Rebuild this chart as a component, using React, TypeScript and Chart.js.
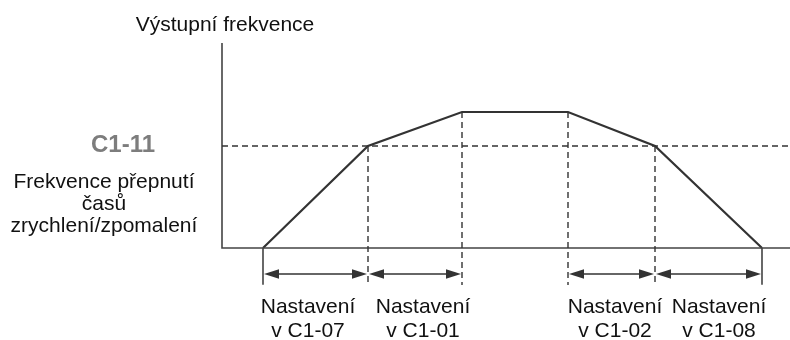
import React, { useEffect, useRef } from "react";
import { Chart, registerables } from "chart.js";

Chart.register(...registerables);

// Time instants (arbitrary units) of the accel/decel profile corners
const timePoints = [0.41, 1.46, 2.4, 3.46, 4.33, 5.4];
// Output frequency (% of max) at those instants
const freqPercent = [0, 75, 100, 100, 75, 0];
// Switching frequency C1-11 (% of max)
const switchFreq = 75;
// Segments measured by the double arrows (indices into timePoints)
const segments = [
  [0, 1],
  [1, 2],
  [3, 4],
  [4, 5],
];
const segmentLabels = [
  ["Nastavení", "v C1-07"],
  ["Nastavení", "v C1-01"],
  ["Nastavení", "v C1-02"],
  ["Nastavení", "v C1-08"],
];
const segmentLabelTimes = [0.86, 2.01, 3.93, 4.97];
const axisTitle = "Výstupní frekvence";
const switchCode = "C1-11";
const switchLabel = ["Frekvence přepnutí", "časů", "zrychlení/zpomalení"];

const X_MIN = -2.22;
const X_MAX = 5.68;
const Y_MIN = -67.65;
const Y_MAX = 182.35;
const AXIS_TOP = 150.7;
const ARROW_LEVEL = -19.1;
const DASH_BOTTOM = -27.2;
const TICK_BOTTOM = -27.0;

const FONT = '"Liberation Sans", Arial, sans-serif';

const annotPlugin = {
  id: "annot",
  afterDatasetsDraw(chart: any) {
    const { ctx, scales } = chart;
    const xs = scales.x;
    const ys = scales.y;
    ctx.save();
    // arrows
    const ay = ys.getPixelForValue(ARROW_LEVEL);
    ctx.strokeStyle = "#333";
    ctx.fillStyle = "#333";
    ctx.lineWidth = 1.6;
    const headL = 15;
    const headW = 4.8;
    segments.forEach(([a, b]) => {
      const x1 = xs.getPixelForValue(timePoints[a]) + 1;
      const x2 = xs.getPixelForValue(timePoints[b]) - 1;
      ctx.beginPath();
      ctx.moveTo(x1 + headL - 2, ay);
      ctx.lineTo(x2 - headL + 2, ay);
      ctx.stroke();
      ctx.beginPath();
      ctx.moveTo(x1, ay);
      ctx.lineTo(x1 + headL, ay - headW);
      ctx.lineTo(x1 + headL, ay + headW);
      ctx.closePath();
      ctx.fill();
      ctx.beginPath();
      ctx.moveTo(x2, ay);
      ctx.lineTo(x2 - headL, ay - headW);
      ctx.lineTo(x2 - headL, ay + headW);
      ctx.closePath();
      ctx.fill();
    });

    // segment labels
    ctx.fillStyle = "#111";
    ctx.font = `21px ${FONT}`;
    ctx.textAlign = "center";
    ctx.textBaseline = "alphabetic";
    segmentLabels.forEach((lines, i) => {
      const cx = xs.getPixelForValue(segmentLabelTimes[i]);
      lines.forEach((t, j) => ctx.fillText(t, cx, 313 + j * 24));
    });

    // axis title centered on y axis
    const axX = xs.getPixelForValue(0);
    ctx.fillText(axisTitle, axX + 3, 31);

    // left labels
    const sy = ys.getPixelForValue(switchFreq);
    ctx.fillStyle = "#7d7d7d";
    ctx.font = `bold 24px ${FONT}`;
    ctx.fillText(switchCode, 123, sy + 6);
    ctx.fillStyle = "#111";
    ctx.font = `21px ${FONT}`;
    switchLabel.forEach((t, j) => ctx.fillText(t, 104, sy + 42 + j * 22));
    ctx.restore();
  },
};

export default function App() {
  const ref = useRef<HTMLCanvasElement | null>(null);
  useEffect(() => {
    document.body.style.margin = "0";
    const canvas = ref.current;
    if (!canvas) return;
    const profile = timePoints.map((t, i) => ({ x: t, y: freqPercent[i] }));
    const dashedV: any[] = [];
    [1, 2, 3, 4].forEach((i) => {
      dashedV.push({ x: timePoints[i], y: freqPercent[i] });
      dashedV.push({ x: timePoints[i], y: DASH_BOTTOM });
      dashedV.push({ x: timePoints[i], y: null });
    });
    const solidV: any[] = [];
    [0, 5].forEach((i) => {
      solidV.push({ x: timePoints[i], y: 0 });
      solidV.push({ x: timePoints[i], y: TICK_BOTTOM });
      solidV.push({ x: timePoints[i], y: null });
    });
    const common = { pointRadius: 0, fill: false, tension: 0, spanGaps: false, clip: false as any };
    const chart = new Chart(canvas, {
      type: "line",
      data: {
        datasets: [
          {
            ...common,
            data: [
              { x: 0, y: switchFreq },
              { x: X_MAX, y: switchFreq },
            ],
            borderColor: "#333",
            borderWidth: 1.4,
            borderDash: [6, 4],
          },
          { ...common, data: dashedV, borderColor: "#333", borderWidth: 1.4, borderDash: [6, 4] },
          {
            ...common,
            data: [
              { x: 0, y: AXIS_TOP },
              { x: 0, y: 0 },
              { x: X_MAX, y: 0 },
            ],
            borderColor: "#444",
            borderWidth: 1.6,
          },
          { ...common, data: solidV, borderColor: "#444", borderWidth: 1.6 },
          { ...common, data: profile, borderColor: "#333", borderWidth: 2.2 },
        ],
      },
      options: {
        responsive: false,
        animation: false,
        events: [],
        layout: { padding: 0 },
        plugins: { legend: { display: false }, tooltip: { enabled: false }, title: { display: false } },
        scales: {
          x: { type: "linear", min: X_MIN, max: X_MAX, display: false },
          y: { type: "linear", min: Y_MIN, max: Y_MAX, display: false },
        },
      },
      plugins: [annotPlugin],
    });
    return () => chart.destroy();
  }, []);
  return (
    <div style={{ width: 790, height: 340, background: "#fff" }}>
      <canvas ref={ref} width={790} height={340} style={{ display: "block" }} />
    </div>
  );
}
